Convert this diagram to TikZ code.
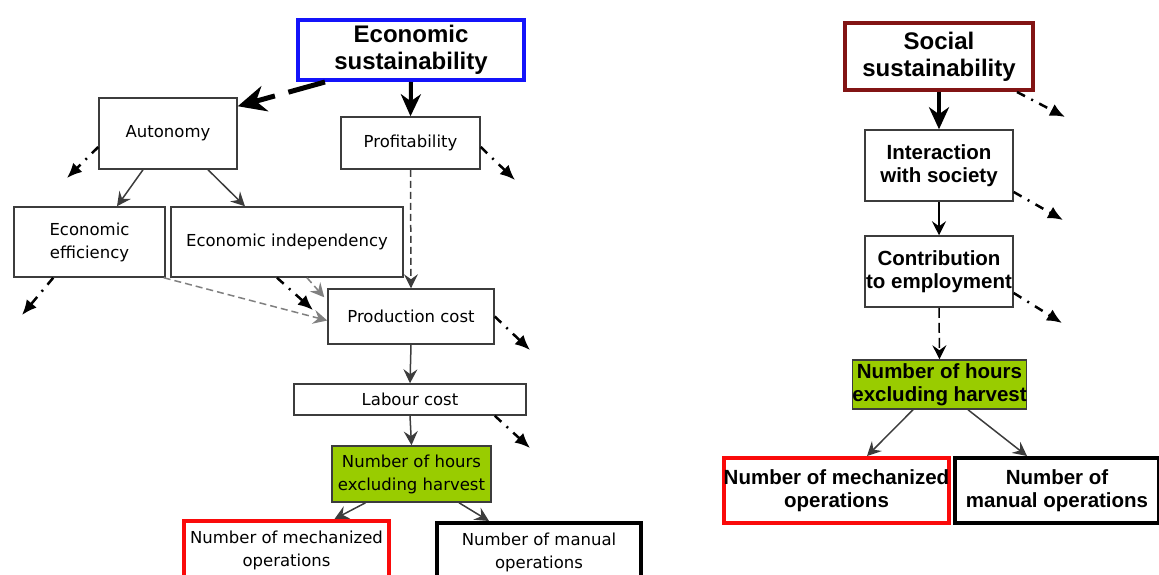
\documentclass[tikz,border=0pt]{standalone}
\usepackage{fontspec}
\usepackage{xcolor}
\usepackage{tikz}
\usetikzlibrary{arrows.meta,positioning,calc}
\newfontfamily\plainsans{DejaVu Sans}
\newfontfamily\boldsans{Liberation Sans}
\definecolor{econblue}{RGB}{20, 20, 250}
\definecolor{socialred}{RGB}{130, 20, 20}
\definecolor{mechred}{RGB}{250, 10, 10}
\definecolor{hoursgreen}{RGB}{153, 204, 0}
\definecolor{edgegrey}{RGB}{60, 60, 60}

\begin{document}
\begin{tikzpicture}[x=1pt, y=-1pt]
    % Styles
    \tikzstyle{plainbox} = [draw=edgegrey, fill=white, line width=1.5pt, inner sep=0pt, align=center, font=\plainsans\fontsize{16.5}{23}\selectfont]
    \tikzstyle{boldbox} = [draw=edgegrey, fill=white, line width=1.5pt, inner sep=0pt, align=center, font=\boldsans\bfseries\fontsize{20.5}{22.5}\selectfont]
    \tikzstyle{titlebox} = [draw, fill=white, line width=4pt, inner sep=0pt, align=center, font=\boldsans\bfseries\fontsize{24}{27}\selectfont]
    \tikzstyle{thinarrow} = [line width=1.5pt, draw=edgegrey, -{Stealth[length=14pt, width=14pt, inset=5pt]}]
    \tikzstyle{thickarrow} = [line width=4pt, -{Stealth[length=22pt, width=20pt, inset=7pt]}]
    \tikzstyle{dashlink} = [thinarrow, dash pattern=on 7pt off 4pt]
    \tikzstyle{otherlink} = [line width=2.5pt, dash pattern=on 9pt off 7pt on 2pt off 7pt, -{Latex[length=15pt, width=13pt]}]

    \useasboundingbox (0,0) rectangle (1159,574);

    % Economic sustainability
    \node[titlebox, draw=econblue, minimum width=226, minimum height=60] (econ) at (411, 50) {Economic\\sustainability};
    \node[plainbox, minimum width=138, minimum height=71] (autonomy) at (168, 133.5) {Autonomy};
    \node[plainbox, minimum width=139, minimum height=52] (profit) at (410.5, 143) {Profitability};
    \node[plainbox, minimum width=151, minimum height=70] (effic) at (89.5, 242) {Economic\\efficiency};
    \node[plainbox, minimum width=232, minimum height=70] (indep) at (287, 242) {Economic independency};
    \node[plainbox, minimum width=166, minimum height=55] (prodcost) at (411, 316.5) {Production cost};
    \node[plainbox, minimum width=232, minimum height=31] (labour) at (410, 399.5) {Labour cost};
    \node[plainbox, fill=hoursgreen, minimum width=159, minimum height=56] (hours) at (411.5, 474) {Number of hours\\excluding harvest};
    \node[plainbox, draw=mechred, line width=4pt, minimum width=205, minimum height=58] (mech) at (286.5, 550) {Number of mechanized\\operations};
    \node[plainbox, draw=black, line width=4pt, minimum width=204, minimum height=58] (manual) at (539, 552) {Number of manual\\operations};

    % Social sustainability
    \node[titlebox, draw=socialred, minimum width=188, minimum height=67] (social) at (939, 56.5) {Social\\sustainability};
    \node[boldbox, minimum width=148, minimum height=71] (interact) at (939, 165.5) {Interaction\\with society};
    \node[boldbox, minimum width=148, minimum height=71] (contrib) at (939, 271.5) {Contribution\\to employment};
    \node[boldbox, fill=hoursgreen, minimum width=173, minimum height=49] (hourssoc) at (939.5, 384.5) {Number of hours\\excluding harvest};
    \node[boldbox, draw=mechred, line width=4pt, minimum width=219, minimum height=65] (mechsoc) at (836.5, 490.5) {Number of mechanized\\operations};
    \node[boldbox, draw=black, line width=4pt, minimum width=204, minimum height=65] (manualsoc) at (1057, 490.5) {Number of\\manual operations};

    % Free ends of the links to other criteria
    \coordinate (autonomyout) at (67, 178);
    \coordinate (profitout) at (515, 180);
    \coordinate (efficout) at (22, 315);
    \coordinate (indepout) at (313, 310);
    \coordinate (prodcostout) at (530, 350);
    \coordinate (labourout) at (530, 448);
    \coordinate (socialout) at (1065, 117);
    \coordinate (interactout) at (1063, 220);
    \coordinate (contribout) at (1062, 323);

    % Economic links
    \draw[line width=5pt, dash pattern=on 38pt off 14pt, -{Stealth[length=28pt, width=26pt, inset=9pt]}] ([xshift=-86pt]econ.south) -- ([yshift=-9pt]autonomy.north east);
    \draw[thickarrow] (econ.south) -- (profit.north);
    \draw[thinarrow] ([xshift=-25pt]autonomy.south) -- ([xshift=27.5pt]effic.north);
    \draw[thinarrow] ([xshift=40pt]autonomy.south) -- ([xshift=-42pt]indep.north);
    \draw[dashlink] (profit.south) -- (prodcost.north);
    \draw[dashlink, draw=gray] ([xshift=-2pt]effic.south east) -- ([yshift=-4pt]prodcost.west);
    \draw[dashlink, draw=gray] ([xshift=20pt]indep.south) -- ([xshift=-3pt, yshift=-9pt]prodcost.north west);
    \draw[thinarrow] (prodcost.south) -- (labour.north);
    \draw[thinarrow] (labour.south) -- (hours.north);
    \draw[thinarrow] ([xshift=-46pt]hours.south) -- ([xshift=48pt]mech.north);
    \draw[thinarrow] ([xshift=47.5pt]hours.south) -- ([xshift=-50pt]manual.north);

    \draw[otherlink] ([yshift=-13.5pt]autonomy.west) -- (autonomyout);
    \draw[otherlink] ([yshift=-4pt]profit.east) -- (profitout);
    \draw[otherlink] ([xshift=40pt]effic.south west) -- (efficout);
    \draw[otherlink] ([xshift=-10pt]indep.south) -- (indepout);
    \draw[otherlink] (prodcost.east) -- (prodcostout);
    \draw[otherlink] ([xshift=-32pt]labour.south east) -- (labourout);

    % Social links
    \draw[thickarrow] (social.south) -- (interact.north);
    \draw[thinarrow, draw=black] (interact.south) -- (contrib.north);
    \draw[dashlink, draw=black, dash pattern=on 10pt off 5pt] (contrib.south) -- (hourssoc.north);
    \draw[thinarrow] ([xshift=-26.5pt]hourssoc.south) -- ([xshift=30.5pt]mechsoc.north);
    \draw[thinarrow] ([xshift=28.5pt]hourssoc.south) -- ([xshift=-30pt]manualsoc.north);

    \draw[otherlink] ([xshift=-18pt]social.south east) -- (socialout);
    \draw[otherlink] ([yshift=-26.5pt]interact.east) -- (interactout);
    \draw[otherlink] ([yshift=-21.5pt]contrib.east) -- (contribout);
\end{tikzpicture}
\end{document}
